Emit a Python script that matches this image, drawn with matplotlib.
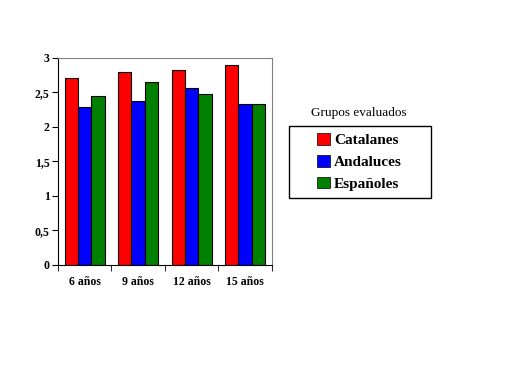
import numpy as np
import matplotlib
matplotlib.use('Agg')
import matplotlib.pyplot as plt
from matplotlib.patches import Patch, Rectangle

# Datos
categorias = ['6 años', '9 años', '12 años', '15 años']
catalanes = [2.71, 2.80, 2.83, 2.90]
andaluces = [2.29, 2.38, 2.57, 2.33]
espanoles = [2.45, 2.65, 2.48, 2.33]
series = ['Catalanes', 'Andaluces', 'Españoles']
colores = ['#ff0000', '#0000ff', '#008000']

plt.rcParams['font.family'] = ['Liberation Serif', 'DejaVu Serif']

fig = plt.figure(figsize=(5.12, 3.84), dpi=100)
ax = fig.add_axes([0.113, 0.31, 0.418, 0.539])

x = np.arange(len(categorias))
ancho = 0.25
for i, (vals, col) in enumerate(zip([catalanes, andaluces, espanoles], colores)):
    ax.bar(x + (i - 1) * ancho, vals, ancho, color=col, edgecolor='black', linewidth=0.8)

ax.set_xlim(-0.5, len(categorias) - 0.5)
ax.set_ylim(0, 3)
ax.set_yticks([0, 0.5, 1, 1.5, 2, 2.5, 3])
ax.set_yticklabels(['0', '0,5', '1', '1,5', '2', '2,5', '3'], fontsize=8.5, fontweight='bold')
ax.set_xticks(x)
ax.set_xticklabels(categorias, fontsize=8.5, fontweight='bold')
ax.tick_params(axis='x', length=0, pad=8)
ax.set_xticks(np.arange(len(categorias) + 1) - 0.5, minor=True)
ax.tick_params(axis='x', which='minor', length=4, direction='out')
ax.tick_params(axis='y', length=4, direction='out', pad=2)

for lado in ['top', 'right']:
    ax.spines[lado].set_color('#808080')
    ax.spines[lado].set_linewidth(0.8)

# caja de la leyenda
fig.patches.append(Rectangle((0.564, 0.484), 0.277, 0.188, transform=fig.transFigure,
                             facecolor='white', edgecolor='black', linewidth=1.0))
handles = [Patch(facecolor=c, edgecolor='black', linewidth=0.5) for c in colores]
leg = fig.legend(handles, series, loc='center',
                 bbox_to_anchor=(0.564, 0.484, 0.277, 0.188),
                 prop={'size': 11, 'weight': 'bold'}, frameon=False,
                 handlelength=0.8, handleheight=0.8, handletextpad=0.3, labelspacing=0.5,
                 borderaxespad=0)
fig.text(0.70, 0.706, 'Grupos evaluados', ha='center', va='center', fontsize=9.5)

fig.savefig('out.png', dpi=100)
